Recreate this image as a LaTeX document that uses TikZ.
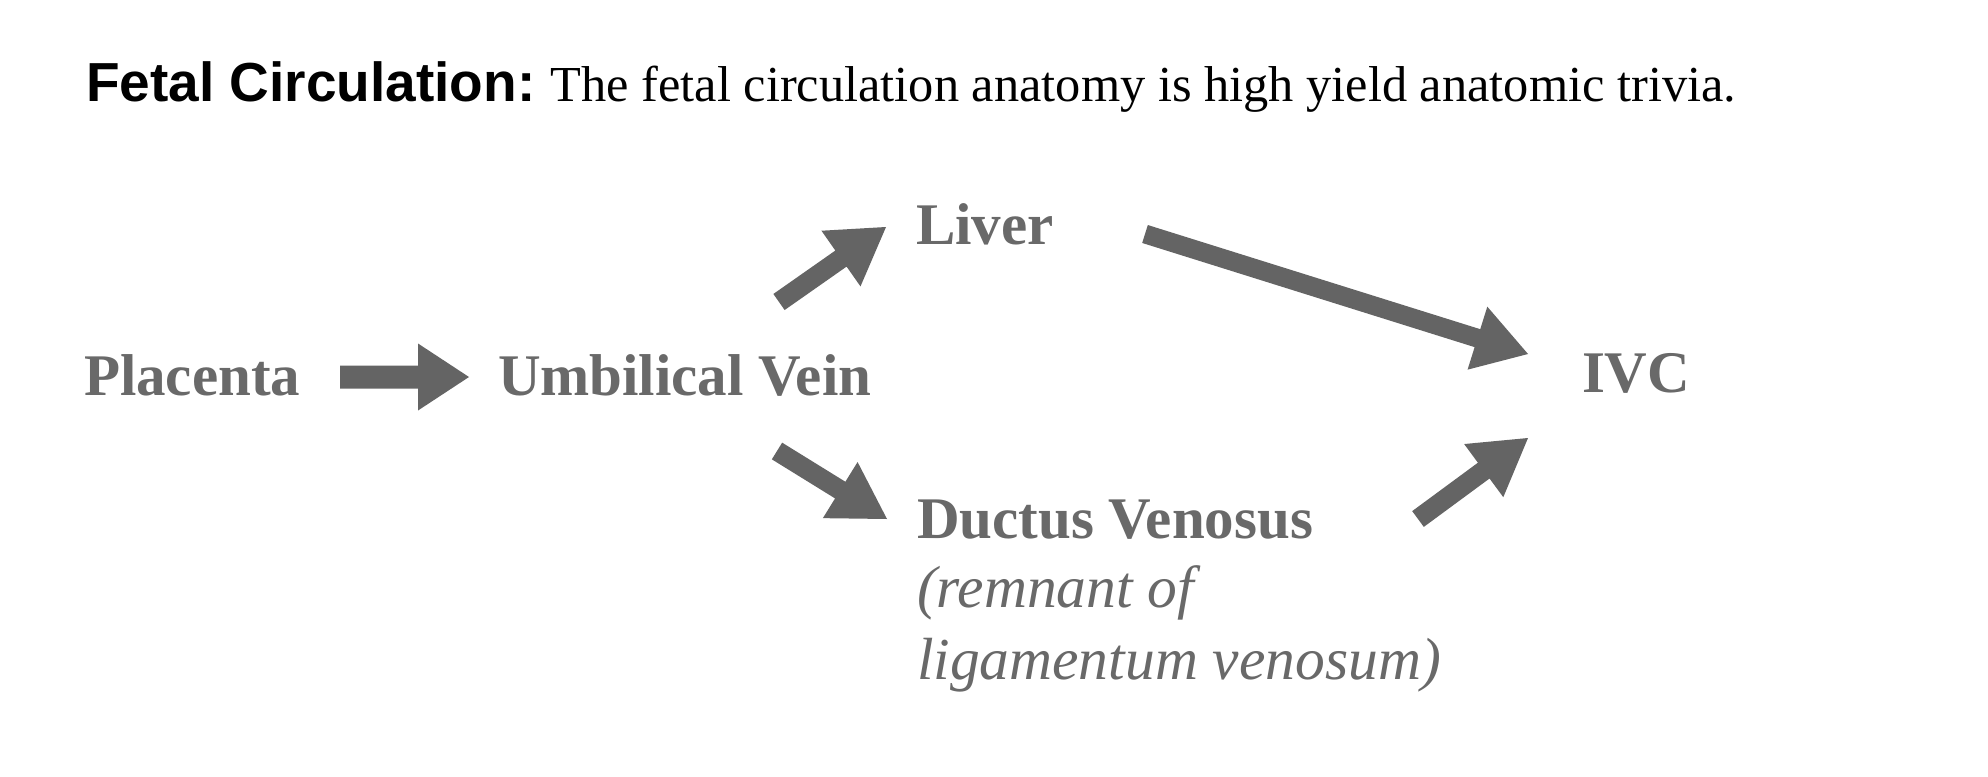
\documentclass[tikz,border=0pt]{standalone}
\usepackage{fontspec}
\setmainfont{Liberation Serif}
\newfontfamily\arialfont{Liberation Sans}
\usetikzlibrary{calc}
\definecolor{labelgray}{RGB}{105,105,105}
\definecolor{arrowgray}{RGB}{100,100,100}
\newcommand\blockarrow[5]{% #1 start, #2 end, #3 shaft half width, #4 head length, #5 head half width
  \coordinate (ba-h) at ($(#2)!#4!(#1)$);
  \fill[arrowgray] ($(#1)!#3!90:(#2)$) -- ($(ba-h)!#3!-90:(#1)$) -- ($(ba-h)!#5!-90:(#1)$) -- (#2)
    -- ($(ba-h)!#5!90:(#1)$) -- ($(ba-h)!#3!90:(#1)$) -- ($(#1)!#3!-90:(#2)$) -- cycle;
}
\tikzset{
  lbl/.style={anchor=base west, inner sep=0pt, outer sep=0pt, text=labelgray,
    font=\fontsize{59}{70}\selectfont\bfseries},
  note/.style={anchor=base west, inner sep=0pt, outer sep=0pt, text=labelgray,
    font=\fontsize{59.5}{70}\selectfont\itshape},
}
\begin{document}
\begin{tikzpicture}[x=1pt,y=-1pt]
\useasboundingbox[fill=white] (0,0) rectangle (1988,776);
% title
\node[anchor=base west, inner sep=0pt] (title) at (86,101)
  {{\arialfont\bfseries\fontsize{55}{66}\selectfont Fetal Circulation:\ }\fontsize{50.4}{60}\selectfont The fetal circulation anatomy is high yield anatomic trivia.};
% labels
\node[lbl] (plac) at (84,395) {Placenta};
\node[lbl] (uv) at (498,395) {Umbilical Vein};
\node[lbl] (liver) at (916,244) {Liver};
\node[lbl] (ivc) at (1582,392) {IVC};
\node[lbl] (dv) at (917,538) {Ductus Venosus};
\node[note] (dvn1) at (917,607) {(remnant of};
\node[note] (dvn2) at (917,679) {ligamentum venosum)};
% arrow end points
\coordinate (a1s) at (340,377); \coordinate (a1e) at (469,377);
\coordinate (a2s) at (779,302); \coordinate (a2e) at (886,227);
\coordinate (a3s) at (777,451); \coordinate (a3e) at (887,519);
\coordinate (a4s) at (1145,234); \coordinate (a4e) at (1528,354);
\coordinate (a5s) at (1418,519); \coordinate (a5e) at (1528,438);
\blockarrow{a1s}{a1e}{11.5pt}{51pt}{33.5pt}
\blockarrow{a2s}{a2e}{9.8pt}{55pt}{34pt}
\blockarrow{a3s}{a3e}{9.8pt}{55pt}{33pt}
\blockarrow{a4s}{a4e}{9.4pt}{53pt}{33pt}
\blockarrow{a5s}{a5e}{9.8pt}{55pt}{33pt}
\end{tikzpicture}
\end{document}
